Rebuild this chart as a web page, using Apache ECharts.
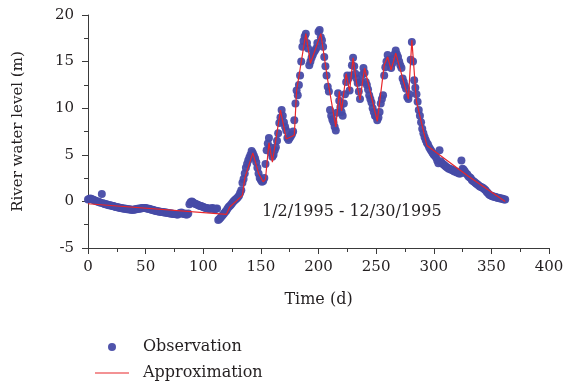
<!DOCTYPE html>
<html>
<head>
<meta charset="utf-8">
<script src="https://cdn.jsdelivr.net/npm/echarts@6/dist/echarts.min.js"></script>
<style>
  html, body { margin: 0; padding: 0; background: #fff; }
  #chart_id { width: 573px; height: 383px; }
</style>
</head>
<body>
<div id="chart_id"></div>
<script>
// daily observed river level (m), day 0 .. 362
var observed = [
  0.2, 0.25, 0.3, 0.25, 0.2, 0.15, 0.1, 0.05, 0.0, -0.05,
  -0.1, -0.15, 0.8, -0.2, -0.25, -0.3, -0.3, -0.35, -0.4, -0.4,
  -0.45, -0.5, -0.5, -0.55, -0.6, -0.6, -0.65, -0.65, -0.7, -0.7,
  -0.75, -0.75, -0.8, -0.8, -0.85, -0.85, -0.85, -0.9, -0.9, -0.9,
  -0.9, -0.85, -0.85, -0.8, -0.8, -0.75, -0.75, -0.7, -0.7, -0.7,
  -0.7, -0.75, -0.8, -0.8, -0.85, -0.9, -0.9, -0.95, -1.0, -1.0,
  -1.05, -1.05, -1.1, -1.1, -1.15, -1.15, -1.2, -1.2, -1.2, -1.25,
  -1.25, -1.3, -1.3, -1.3, -1.35, -1.35, -1.35, -1.4, -1.4, -1.3,
  -1.25, -1.2, -1.3, -1.35, -1.3, -1.4, -1.4, -1.3, -0.3, -0.1,
  0.0, -0.1, -0.2, -0.25, -0.3, -0.35, -0.4, -0.5, -0.5, -0.55,
  -0.6, -0.65, -0.7, -0.7, -0.75, -0.8, -0.8, -0.75, -0.7, -0.8,
  -0.85, -0.8, -0.75, -2.0, -1.9, -1.75, -1.6, -1.45, -1.3, -1.15,
  -1.0, -0.8, -0.6, -0.5, -0.35, -0.2, -0.05, 0.1, 0.2, 0.3,
  0.45, 0.6, 0.9, 1.2, 2.0, 2.4, 3.0, 3.6, 4.0, 4.4,
  4.7, 5.0, 5.4, 5.2, 4.9, 4.6, 4.2, 3.6, 3.0, 2.5,
  2.3, 2.1, 2.2, 2.5, 4.0, 5.5, 6.2, 6.8, 5.8, 5.2,
  4.8, 5.0, 5.5, 5.8, 6.5, 7.3, 8.4, 9.0, 9.8, 9.2,
  8.5, 8.0, 7.6, 6.8, 6.6, 6.8, 7.0, 7.2, 7.5, 8.7,
  10.5, 11.9, 11.4, 12.5, 13.5, 15.0, 16.6, 17.2, 17.7, 18.0,
  17.0, 16.4, 14.6, 15.0, 15.4, 15.7, 16.0, 16.2, 16.4, 17.0,
  18.2, 18.4, 17.6, 17.3, 16.6, 15.5, 14.5, 13.5, 12.3, 11.8,
  9.8, 9.2, 8.8, 8.5, 8.0, 7.6, 9.5, 11.6, 10.8, 10.1,
  9.6, 9.2, 10.5, 11.5, 12.8, 13.5, 13.2, 11.9, 13.5, 14.6,
  15.4, 14.5, 13.7, 13.2, 12.7, 11.8, 11.0, 12.8, 13.6, 14.3,
  13.8, 12.8, 12.5, 12.0, 11.4, 11.0, 10.6, 10.0, 9.6, 9.2,
  9.1, 8.7, 9.0, 9.6, 10.5, 11.0, 11.4, 13.5, 14.4, 15.0,
  15.7, 15.2, 14.8, 14.3, 14.8, 15.3, 15.8, 16.2, 15.8, 15.5,
  15.0, 14.6, 14.3, 13.2, 12.8, 12.4, 12.1, 11.2, 11.0, 11.5,
  15.2, 17.1, 15.0, 13.0, 12.2, 11.5, 10.7, 9.8, 9.2, 8.5,
  7.8, 7.3, 6.9, 6.6, 6.3, 6.1, 5.8, 5.6, 5.4, 5.2,
  5.0, 4.9, 4.7, 4.4, 4.1, 5.5, 4.3, 4.1, 4.0, 3.9,
  3.8, 3.7, 3.6, 3.5, 3.5, 3.4, 3.4, 3.3, 3.2, 3.2,
  3.1, 3.1, 3.0, 3.0, 4.4, 3.5, 3.4, 3.2, 3.0, 2.9,
  2.7, 2.6, 2.5, 2.3, 2.2, 2.1, 2.0, 1.9, 1.8, 1.7,
  1.6, 1.55, 1.5, 1.4, 1.3, 1.2, 1.0, 0.9, 0.75, 0.65,
  0.6, 0.55, 0.5, 0.5, 0.45, 0.4, 0.4, 0.35, 0.3, 0.3,
  0.25, 0.2, 0.2
];

// piecewise approximation vertices
var approxDays = [0, 120, 123, 134, 136, 143, 148, 152, 154, 157, 160, 167, 172, 179, 181, 189, 193, 202, 208, 215, 218, 220, 224, 227, 230, 233, 236, 240, 251, 257, 260, 263, 267, 278, 281, 285, 294, 330, 362];
var approxValues = [-0.25, -1.4, -0.6, 0.65, 2.5, 5.2, 3.0, 2.1, 2.4, 6.3, 4.2, 9.8, 6.7, 7.1, 11.9, 18.0, 14.8, 18.0, 13.0, 8.0, 11.8, 9.7, 13.7, 11.8, 15.4, 12.7, 10.9, 14.3, 8.6, 14.6, 15.5, 14.1, 15.9, 11.0, 17.3, 10.7, 6.0, 2.7, 0.0];

var xTicks = { min: 0, max: 400, interval: 50 };
var yTicks = { min: -5, max: 20, interval: 5 };

var seriesNames = ['Observation', 'Approximation'];
var periodLabel = '1/2/1995 - 12/30/1995';

var FONT = 'DejaVu Serif';
var INK = '#231f20';
var RED = '#e8262a';
var BLUE = '#474ba6';

var chart = echarts.init(document.getElementById('chart_id'));

// legend text sits a bit further from the icon than echarts' default 5px
var legendText = {
  fontFamily: FONT, fontSize: 16, color: INK,
  rich: { gap: { width: 9, fontSize: 16 } }
};

var option = {
  animation: false,
  backgroundColor: '#fff',
  grid: { left: 88, right: 24, top: 15, bottom: 135 },
  legend: [
    {
      data: [{ name: seriesNames[0], icon: 'circle', itemStyle: { color: BLUE } }],
      left: 103, top: 334,
      itemWidth: 34, itemHeight: 8,
      formatter: '{gap| }{name}',
      textStyle: legendText
    },
    {
      data: [{ name: seriesNames[1], icon: 'rect', itemStyle: { color: RED, borderWidth: 0 } }],
      left: 90, top: 360,
      itemWidth: 34, itemHeight: 1,
      formatter: '{gap| }{name}',
      textStyle: legendText
    }
  ],
  xAxis: {
    type: 'value',
    min: xTicks.min, max: xTicks.max, interval: xTicks.interval,
    name: 'Time (d)',
    nameLocation: 'middle',
    nameGap: 44,
    nameTextStyle: { fontFamily: FONT, fontSize: 16, color: INK },
    axisLine: { onZero: false, lineStyle: { color: '#3a3a3a', width: 1 } },
    axisTick: { show: true, inside: false, length: 6, lineStyle: { color: '#3a3a3a' } },
    minorTick: { show: true, splitNumber: 2, length: 4, lineStyle: { color: '#3a3a3a' } },
    splitLine: { show: false },
    axisLabel: { fontFamily: FONT, fontSize: 15, color: INK, margin: 12 }
  },
  yAxis: {
    type: 'value',
    min: yTicks.min, max: yTicks.max, interval: yTicks.interval,
    name: 'River water level (m)',
    nameLocation: 'middle',
    nameGap: 62,
    nameTextStyle: { fontFamily: FONT, fontSize: 15, color: INK },
    axisLine: { show: true, lineStyle: { color: '#3a3a3a', width: 1 } },
    axisTick: { show: true, inside: false, length: 6, lineStyle: { color: '#3a3a3a' } },
    minorTick: { show: true, splitNumber: 2, length: 4, lineStyle: { color: '#3a3a3a' } },
    splitLine: { show: false },
    axisLabel: { fontFamily: FONT, fontSize: 15, color: INK, margin: 14 }
  },
  graphic: [
    {
      type: 'text',
      left: 262, top: 204,
      style: { text: periodLabel, fontFamily: FONT, fontSize: 16, fill: INK }
    }
  ],
  series: [
    {
      name: seriesNames[0],
      type: 'scatter',
      symbol: 'circle',
      symbolSize: 8,
      itemStyle: { color: BLUE, opacity: 0.95 },
      data: observed.map(function (v, i) { return [i, v]; }),
      z: 2
    },
    {
      name: seriesNames[1],
      type: 'line',
      symbol: 'none',
      lineStyle: { color: RED, width: 1.2 },
      itemStyle: { color: RED },
      data: approxDays.map(function (d, i) { return [d, approxValues[i]]; }),
      z: 3
    }
  ]
};

chart.setOption(option);
</script>
</body>
</html>
